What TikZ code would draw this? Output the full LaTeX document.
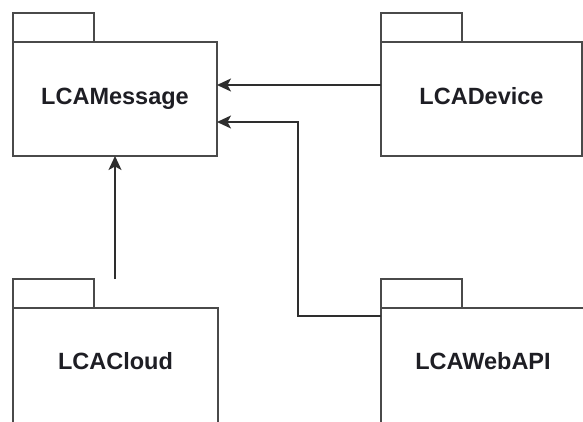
\documentclass[tikz,border=0pt]{standalone}
\usepackage{fontspec}
\setmainfont{Liberation Sans}
\usetikzlibrary{arrows.meta,calc}
\definecolor{boxline}{HTML}{4A4A4A}
\definecolor{conn}{HTML}{2E2E2E}
\definecolor{txt}{HTML}{1E1E24}
\begin{document}
\begin{tikzpicture}[x=1pt,y=1pt,
  pkgbody/.style={draw=boxline,line width=2pt,outer sep=0pt,minimum width=204pt,minimum height=114pt,
    inner sep=0pt,text height=17pt,text depth=6pt,font=\fontsize{23.5}{26}\selectfont\bfseries,text=txt},
  pkglow/.style={text depth=14pt},
  pkgtab/.style={draw=boxline,line width=2pt,outer sep=0pt,minimum width=81pt,minimum height=29pt,inner sep=0pt,anchor=south west},
  arr/.style={draw=conn,line width=1.5pt,-{Stealth[length=14pt,width=13pt,inset=3.5pt]}}]
\useasboundingbox (0,0) rectangle (583,421);
\clip (0,0) rectangle (583,421);
\fill[white] (0,0) rectangle (583,421);
% packages
\node[pkgbody] (msg) at (115,322) {LCAMessage};
\node[pkgtab] (msgtab) at (msg.north west) {};
\node[pkgbody,minimum width=201pt] (dev) at (481.5,322) {LCADevice};
\node[pkgtab] (devtab) at (dev.north west) {};
\node[pkgbody,pkglow,minimum width=205pt,minimum height=120pt] (cloud) at (115.5,53) {LCACloud};
\node[pkgtab] (cloudtab) at (cloud.north west) {};
\node[pkgbody,pkglow,minimum height=120pt] (web) at (483,53) {LCAWebAPI};
\node[pkgtab] (webtab) at (web.north west) {};
% connectors
\draw[arr] ($(dev.west)+(0,14)$) -- ($(msg.east)+(0,14)$);
\coordinate (webout) at ($(web.north west)+(0,-8)$);
\coordinate (bend1) at (298,0 |- webout);
\coordinate (bend2) at ($(msg.east)+(0,-23)$);
\draw[arr] (webout) -- (bend1) -- (bend1 |- bend2) -- (bend2);
\coordinate (cloudout) at (msg.south |- cloudtab.north);
\draw[arr] (cloudout) -- (msg.south);
\end{tikzpicture}
\end{document}
